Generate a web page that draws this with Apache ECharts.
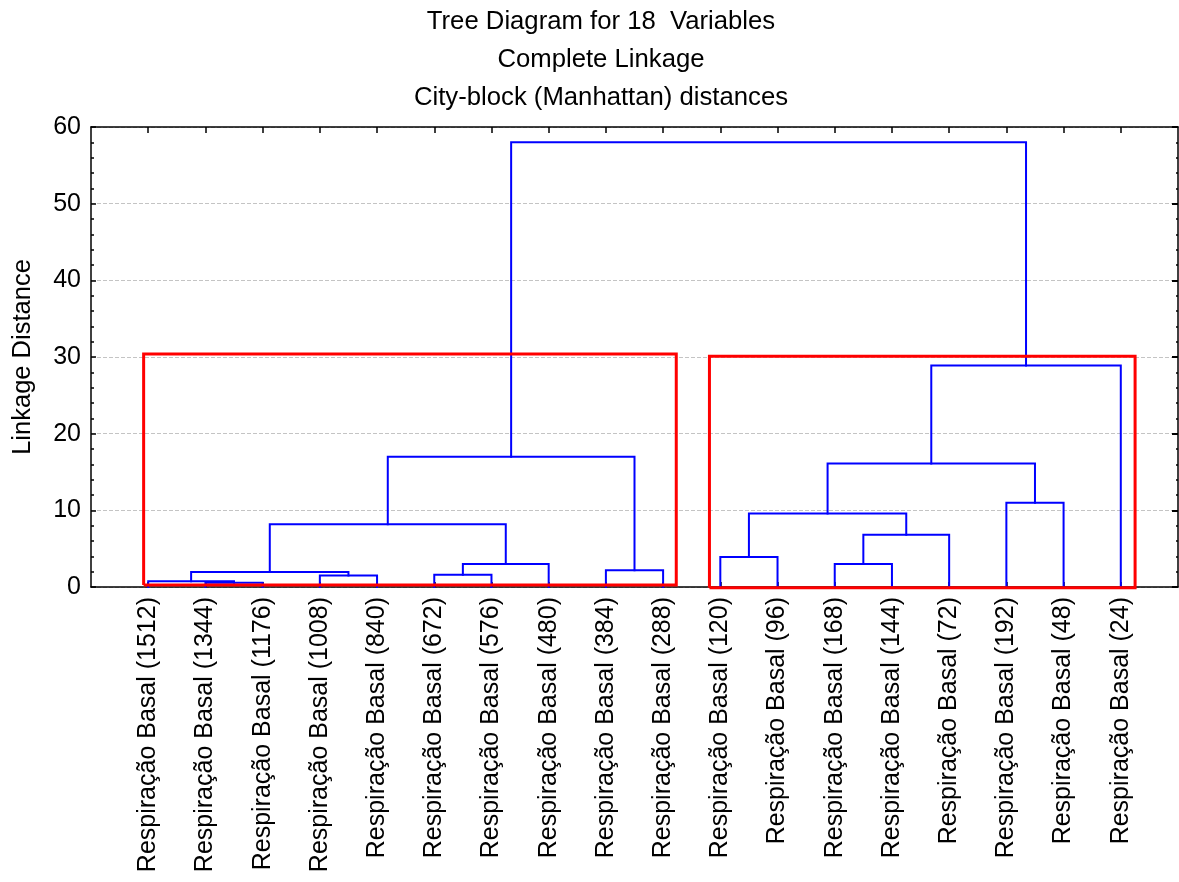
<!DOCTYPE html>
<html>
<head>
<meta charset="utf-8">
<script src="https://cdn.jsdelivr.net/npm/echarts@6/dist/echarts.min.js"></script>
<style>
  html, body { margin: 0; padding: 0; background: #ffffff; }
  #chart { width: 1179px; height: 882px; }
</style>
</head>
<body>
<div id="chart"></div>
<script>
// Leaves of the tree, left to right
const leafLabels = [
  'Respiração Basal (1512)', 'Respiração Basal (1344)', 'Respiração Basal (1176)',
  'Respiração Basal (1008)', 'Respiração Basal (840)', 'Respiração Basal (672)',
  'Respiração Basal (576)', 'Respiração Basal (480)', 'Respiração Basal (384)',
  'Respiração Basal (288)', 'Respiração Basal (120)', 'Respiração Basal (96)',
  'Respiração Basal (168)', 'Respiração Basal (144)', 'Respiração Basal (72)',
  'Respiração Basal (192)', 'Respiração Basal (48)', 'Respiração Basal (24)'
];

// Linkage steps: ids < 18 are leaves, each step creates cluster id 18 + step index
const mergeLeft   = [1, 0, 3, 5, 19, 8, 21, 12, 10, 25, 22, 26, 15, 29, 28, 31, 32];
const mergeRight  = [2, 18, 4, 6, 20, 9, 7, 13, 11, 14, 24, 27, 16, 30, 23, 17, 33];
const mergeHeight = [0.55, 0.75, 1.5, 1.6, 1.95, 2.2, 3.0, 3.0, 3.9, 6.8, 8.2, 9.6, 11.0, 16.1, 17.0, 28.9, 58.0];

// Cluster outlines: [first leaf edge, last leaf edge] in leaf units, plus bottom and top heights
const boxLeft   = [0.92, 10.81];
const boxRight  = [10.23, 18.25];
const boxBottom = [0.25, -0.1];
const boxTop    = [30.4, 30.1];

const yTicks = [0, 10, 20, 30, 40, 50, 60];

// Each node: x position (leaf slot) and height
const leafPos = leafLabels.map((_, i) => i + 1);
const nodeX = leafPos.slice();
const nodeH = leafLabels.map(() => 0);
const links = [];
for (let k = 0; k < mergeHeight.length; k++) {
  const a = mergeLeft[k], b = mergeRight[k], h = mergeHeight[k];
  links.push({
    coords: [[nodeX[a], nodeH[a]], [nodeX[a], h], [nodeX[b], h], [nodeX[b], nodeH[b]]]
  });
  nodeX.push((nodeX[a] + nodeX[b]) / 2);
  nodeH.push(h);
}

const boxes = boxLeft.map((l, i) => ({
  coords: [[l, boxBottom[i]], [l, boxTop[i]], [boxRight[i], boxTop[i]], [boxRight[i], boxBottom[i]], [l, boxBottom[i]]]
}));

const FONT = 'Liberation Sans, Arial, sans-serif';
const frameLine = { show: true, onZero: false, lineStyle: { color: '#000', width: 1.5 } };

const chart = echarts.init(document.getElementById('chart'), null, { renderer: 'canvas' });
chart.setOption({
  animation: false,
  backgroundColor: '#ffffff',
  title: {
    text: 'Tree Diagram for 18  Variables\nComplete Linkage\nCity-block (Manhattan) distances',
    left: 601,
    top: 3,
    padding: 0,
    textAlign: 'center',
    textStyle: { fontFamily: FONT, fontSize: 25.7, fontWeight: 'normal', color: '#000', lineHeight: 38 }
  },
  grid: { left: 91, top: 127, width: 1087, height: 460, containLabel: false },
  xAxis: [
    {
      type: 'value', min: 0, max: leafLabels.length + 1, interval: 1, position: 'bottom',
      axisLine: frameLine,
      axisTick: { show: true, inside: true, length: 5, customValues: leafPos, lineStyle: { color: '#000', width: 1.5 } },
      axisLabel: {
        rotate: 90, margin: 10, fontFamily: FONT, fontSize: 25, color: '#000',
        customValues: leafPos,
        formatter: v => leafLabels[Math.round(v) - 1]
      },
      splitLine: { show: false }
    },
    {
      type: 'value', min: 0, max: leafLabels.length + 1, interval: 1, position: 'top',
      axisLine: frameLine,
      axisTick: { show: true, inside: true, length: 6, customValues: leafPos, lineStyle: { color: '#000', width: 1.5 } },
      axisLabel: { show: false },
      splitLine: { show: false }
    }
  ],
  yAxis: [
    {
      type: 'value', min: yTicks[0], max: yTicks[yTicks.length - 1], interval: 10, position: 'left',
      name: 'Linkage Distance', nameLocation: 'middle', nameRotate: 90, nameGap: 55,
      nameTextStyle: { fontFamily: FONT, fontSize: 25.5, color: '#000' },
      axisLine: frameLine,
      axisTick: { show: true, inside: true, length: 5, lineStyle: { color: '#000', width: 1.5 } },
      minorTick: { show: true, splitNumber: 5, length: 3, lineStyle: { color: '#000', width: 1.5 } },
      axisLabel: { margin: 10, fontFamily: FONT, fontSize: 25, color: '#000' },
      splitLine: { show: true, lineStyle: { color: '#c4c4c4', type: [4, 2], width: 1 } }
    },
    {
      type: 'value', min: yTicks[0], max: yTicks[yTicks.length - 1], interval: 10, position: 'right',
      axisLine: frameLine,
      axisTick: { show: true, inside: true, length: 6, lineStyle: { color: '#000', width: 2 } },
      minorTick: { show: true, splitNumber: 5, length: 2, lineStyle: { color: '#000', width: 1.5 } },
      axisLabel: { show: false },
      splitLine: { show: false }
    }
  ],
  series: [
    {
      type: 'lines', coordinateSystem: 'cartesian2d', polyline: true,
      xAxisIndex: 0, yAxisIndex: 0,
      lineStyle: { color: '#0000ff', width: 2, opacity: 1, cap: 'square', join: 'miter' },
      data: links, z: 3
    },
    {
      type: 'lines', coordinateSystem: 'cartesian2d', polyline: true,
      xAxisIndex: 0, yAxisIndex: 0, clip: false,
      lineStyle: { color: '#ff0000', width: 3, opacity: 1, join: 'miter' },
      data: boxes, z: 4
    }
  ]
});
</script>
</body>
</html>
